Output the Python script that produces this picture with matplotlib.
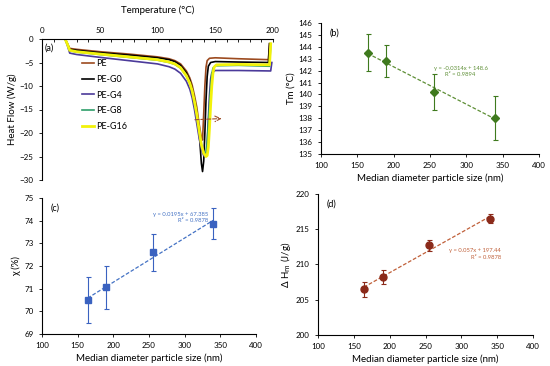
import matplotlib
matplotlib.use("Agg")
from matplotlib import pyplot as plt
import numpy as np

plt.rcParams['font.family'] = ['Lato', 'DejaVu Sans']

# ---- (a) DSC curves ----
t_pe = [20, 22, 24, 30, 50, 75, 100, 110, 115, 120, 125, 128, 130, 132, 134, 136, 138, 139, 140, 141, 142, 143, 145, 150, 170, 196, 197]
hf_pe = [0, -1, -2.0, -2.2, -2.7, -3.2, -3.8, -4.2, -4.6, -5.3, -6.8, -8.3, -9.8, -12, -14.5, -18, -21, -21.5, -16, -10, -6, -4.6, -4.1, -4.0, -4.2, -4.4, -1]

t_g0 = [20, 22, 24, 30, 50, 75, 100, 110, 115, 120, 125, 128, 130, 132, 134, 136, 137, 138, 139, 140, 141, 142, 143, 144, 146, 150, 170, 196, 197]
hf_g0 = [0, -1, -2.2, -2.4, -2.9, -3.4, -4.0, -4.4, -4.8, -5.6, -7.2, -8.8, -10.5, -12.8, -15.5, -19.5, -23, -26.5, -28.2, -26, -20, -13, -8, -5.8, -5.0, -4.8, -4.9, -5.0, -1]

t_g4 = [20, 22, 24, 30, 50, 75, 100, 110, 115, 120, 125, 128, 130, 132, 134, 136, 138, 140, 141, 142, 143, 144, 145, 146, 147, 150, 170, 198, 199]
hf_g4 = [0, -1.4, -3.0, -3.3, -3.9, -4.6, -5.3, -5.9, -6.4, -7.3, -9.0, -10.7, -12.5, -15, -18, -21, -23.5, -24.8, -25.0, -24.8, -22, -17, -12, -8.5, -7.2, -6.7, -6.7, -6.8, -5]

t_g8 = [20, 22, 24, 30, 50, 75, 100, 110, 115, 120, 125, 128, 130, 132, 134, 136, 138, 140, 141, 142, 143, 144, 145, 146, 147, 148, 150, 170, 197, 198]
hf_g8 = [0, -1.2, -2.5, -2.8, -3.3, -3.9, -4.5, -5.0, -5.4, -6.2, -7.9, -9.5, -11.2, -13.5, -16.3, -19.5, -22.5, -24, -24.3, -24.1, -22, -18, -14, -10.5, -7.5, -6.2, -5.7, -5.6, -5.8, -1.5]

t_g16 = [20, 22, 24, 30, 50, 75, 100, 110, 115, 120, 125, 128, 130, 132, 134, 136, 138, 140, 142, 143, 144, 145, 146, 147, 148, 149, 151, 170, 197, 198]
hf_g16 = [0, -1.1, -2.4, -2.7, -3.2, -3.8, -4.4, -4.9, -5.3, -6.1, -7.8, -9.4, -11.0, -13.3, -16, -19.3, -22.5, -24.3, -25, -24.8, -23, -19, -14, -10, -7.3, -6, -5.5, -5.4, -5.5, -1]

# ---- (b)-(d) vs particle size ----
size_nm = [164, 190, 255, 340]
tm = [143.5, 142.8, 140.2, 138.05]
tm_err = [1.55, 1.35, 1.5, 1.85]
chi = [70.5, 71.07, 72.6, 73.87]
chi_err = [1.02, 0.95, 0.82, 0.68]
dhm = [206.5, 208.2, 212.7, 216.5]
dhm_err = [1.05, 0.95, 0.8, 0.65]
fit_tm = (-0.0314, 148.6)
fit_chi = (0.0195, 67.385)
fit_dhm = (0.057, 197.44)

fig = plt.figure(figsize=(5.5, 3.66), dpi=100)
W, H = 550, 366


def add_ax(l, t, r, b):
    return fig.add_axes([l / W, 1 - b / H, (r - l) / W, (b - t) / H])


tick_fs = 5.8
lab_fs = 7

# panel (a)
ax = add_ax(42, 39, 273, 180)
curves = [(t_pe, hf_pe, 'PE', '#9C4A1F', 1.2),
          (t_g0, hf_g0, 'PE-G0', 'black', 1.2),
          (t_g4, hf_g4, 'PE-G4', '#4B3A9A', 1.2),
          (t_g8, hf_g8, 'PE-G8', '#2E9E6A', 1.2),
          (t_g16, hf_g16, 'PE-G16', '#F2F20A', 2.0)]
for t, h, lab, c, lw in curves:
    ax.plot(t, h, color=c, lw=lw, label=lab)
ax.annotate('', xy=(158, -16.9), xytext=(130, -17.2),
            arrowprops=dict(arrowstyle='->', color='#A0522D', ls='--', lw=0.8))
ax.set_xlim(0, 200)
ax.set_ylim(-30, 0)
ax.xaxis.tick_top()
ax.xaxis.set_label_position('top')
ax.set_xticks([0, 50, 100, 150, 200])
ax.set_xticks(np.arange(0, 201, 10), minor=True)
ax.tick_params(axis='x', which='both', direction='in', labelsize=tick_fs, length=2, width=0.6)
ax.tick_params(axis='y', labelsize=tick_fs, length=2.5, width=0.6)
ax.set_yticks(np.arange(-30, 1, 5))
ax.spines['right'].set_visible(False)
ax.spines['bottom'].set_visible(False)
for s in ('left', 'top'):
    ax.spines[s].set_linewidth(0.8)
ax.set_xlabel('Temperature (°C)', fontsize=lab_fs, labelpad=10)
ax.set_ylabel('Heat Flow (W/g)', fontsize=lab_fs, labelpad=2)
ax.text(2, -2.4, '(a)', fontsize=6.5)
ax.legend(loc='upper left', bbox_to_anchor=(0.14, 0.915), frameon=False, fontsize=6.5,
          handlelength=1.3, handletextpad=0.2, labelspacing=0.75)


def panel(box, y, yerr, fit, color, mcolor, marker, ms, ylim, yticks, ylabel, tag, eq_xy):
    ax = add_ax(*box)
    xs = np.array([min(size_nm), max(size_nm)])
    ax.plot(xs, fit[0] * xs + fit[1], ls=(0, (3, 1.5)), color=color, lw=0.9)
    ax.errorbar(size_nm, y, yerr=yerr, fmt=marker, color=mcolor, ecolor=mcolor,
                ms=ms, elinewidth=0.8, capsize=1.8, capthick=0.8)
    ax.set_xlim(100, 400)
    ax.set_ylim(*ylim)
    ax.set_yticks(yticks)
    ax.set_xticks(np.arange(100, 401, 50))
    ax.tick_params(labelsize=tick_fs, length=2.5, width=0.6)
    ax.spines['right'].set_visible(False)
    ax.spines['top'].set_visible(False)
    for s in ('left', 'bottom'):
        ax.spines[s].set_linewidth(0.8)
    ax.set_xlabel('Median diameter particle size (nm)', fontsize=lab_fs, labelpad=3)
    ax.set_ylabel(ylabel, fontsize=lab_fs, labelpad=2)
    ax.text(0.04, 0.96, tag, transform=ax.transAxes, fontsize=6.5, va='top')
    sign = '-' if fit[0] < 0 else ''
    eq = 'y = %s%gx + %g\nR² = %s' % (sign, abs(fit[0]), fit[1], eq_xy[2])
    ax.text(eq_xy[0], eq_xy[1], eq, fontsize=4.2, color=color, ha='center', va='center',
            multialignment='right' if eq_xy[3] else 'center', linespacing=1.3)
    return ax


panel((321, 23, 539, 154), tm, tm_err, fit_tm, '#5E8F36', '#3F7A1E', 'D', 4.2,
      (135, 146), np.arange(135, 147, 1), 'Tm (°C)', '(b)', (292, 141.9, '0.9894', False))
panel((42, 198, 256, 334), chi, chi_err, fit_chi, '#4472C4', '#3A62C0', 's', 5,
      (69, 75), np.arange(69, 76, 1), 'χ (%)', '(c)', (294, 74.15, '0.9878', True))
panel((318, 194, 533, 335), dhm, dhm_err, fit_dhm, '#C0603A', '#8B2A1A', 'o', 5,
      (200, 220), np.arange(200, 221, 5), 'Δ H$_{\\rm m}$ (J/g)', '(d)', (319, 211.5, '0.9878', True))

fig.savefig('out.png', dpi=100)
